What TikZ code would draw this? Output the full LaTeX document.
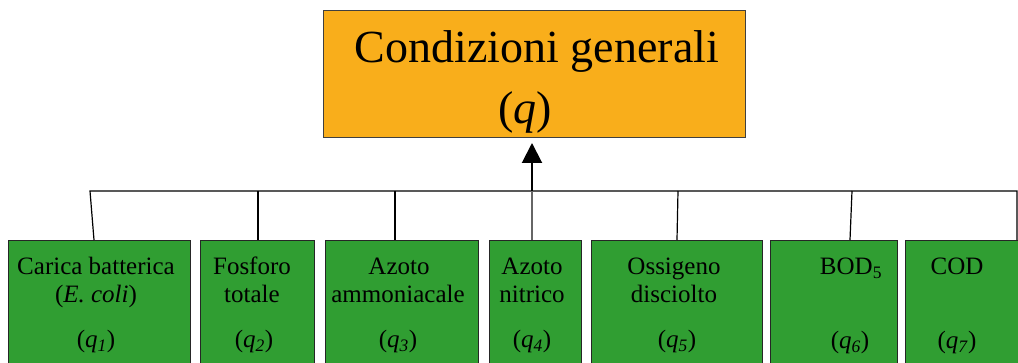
\documentclass[tikz,border=0pt]{standalone}
\usepackage{fontspec}
\setmainfont{Liberation Serif}
\usetikzlibrary{arrows.meta}
\definecolor{topfill}{RGB}{249,174,27}
\definecolor{boxfill}{RGB}{48,158,50}
\tikzset{
  leaf/.style={draw=black!85, line width=1pt, fill=boxfill, anchor=north west, inner sep=0pt},
  lbl/.style={anchor=base, inner sep=0pt, font=\fontsize{25}{28}\selectfont},
  biglbl/.style={anchor=base, inner sep=0pt, font=\fontsize{46}{50}\selectfont},
  wire/.style={draw=black, line width=1.2pt},
  thickwire/.style={draw=black, line width=2pt},
}
\newcommand{\qq}[1]{(\textit{q}\textsubscript{\textit{#1}})}
\begin{document}
\begin{tikzpicture}[x=1pt,y=-1pt]
\useasboundingbox (0,0) rectangle (1018,363);
% top box
\node[draw=black!75, line width=1pt, fill=topfill, anchor=north west, minimum width=422pt, minimum height=127pt, inner sep=0pt] (top) at (323,10) {};
\node[biglbl] (t1) at (537,63) {Condizioni generali};
\node[biglbl] (t2) at (525,124) {(\textit{q})};
% leaf boxes
\node[leaf, minimum width=182pt, minimum height=130pt] (box1) at (8,240) {};
\node[leaf, minimum width=114pt, minimum height=130pt] (box2) at (200,240) {};
\node[leaf, minimum width=153pt, minimum height=130pt] (box3) at (325,240) {};
\node[leaf, minimum width=92pt, minimum height=130pt] (box4) at (489,240) {};
\node[leaf, minimum width=171pt, minimum height=130pt] (box5) at (591,240) {};
\node[leaf, minimum width=127pt, minimum height=130pt] (box6) at (770,240) {};
\node[leaf, minimum width=130pt, minimum height=130pt] (box7) at (905,240) {};
% labels
\node[lbl] (l1a) at (96,275) {Carica batterica};
\node[lbl] (l1b) at (96,303) {(\textit{E. coli})};
\node[lbl] (l1q) at (96,348) {\qq{1}};
\node[lbl] (l2a) at (252,275) {Fosforo};
\node[lbl] (l2b) at (252,303) {totale};
\node[lbl] (l2q) at (254,348) {\qq{2}};
\node[lbl] (l3a) at (399,275) {Azoto};
\node[lbl] (l3b) at (398,303) {ammoniacale};
\node[lbl] (l3q) at (398,348) {\qq{3}};
\node[lbl] (l4a) at (532,275) {Azoto};
\node[lbl] (l4b) at (532,303) {nitrico};
\node[lbl] (l4q) at (532,348) {\qq{4}};
\node[lbl] (l5a) at (674,275) {Ossigeno};
\node[lbl] (l5b) at (674,303) {disciolto};
\node[lbl] (l5q) at (677,348) {\qq{5}};
\node[lbl] (l6a) at (851,275) {BOD\textsubscript{5}};
\node[lbl] (l6q) at (850,349) {\qq{6}};
\node[lbl] (l7a) at (957,275) {COD};
\node[lbl] (l7q) at (957,349) {\qq{7}};
% bus coordinates
\coordinate (b1) at (90,191);
\coordinate (b1e) at (94,240);
\coordinate (b2) at (258,191);
\coordinate (b3) at (395,191);
\coordinate (b4) at (532,191);
\coordinate (b5) at (678,191);
\coordinate (b5e) at (677,240);
\coordinate (b6) at (852,191);
\coordinate (b6e) at (850,240);
\coordinate (b7) at (1017,191);
% connectors
\draw[wire] (b1e) -- (b1) -- (b7) -- (b7 |- box7.north);
\draw[thickwire] (b2) -- (b2 |- box2.north);
\draw[wire] (b3) -- (b3 |- box3.north);
\draw[wire, draw=black!60, line width=1.5pt] (b4) -- (b4 |- box4.north);
\draw[wire] (b5) -- (b5e);
\draw[wire] (b6) -- (b6e);
\draw[thickwire, -{Triangle[width=20pt,length=20pt]}, shorten >=5pt] (b4) -- (b4 |- top.south);
\end{tikzpicture}
\end{document}
